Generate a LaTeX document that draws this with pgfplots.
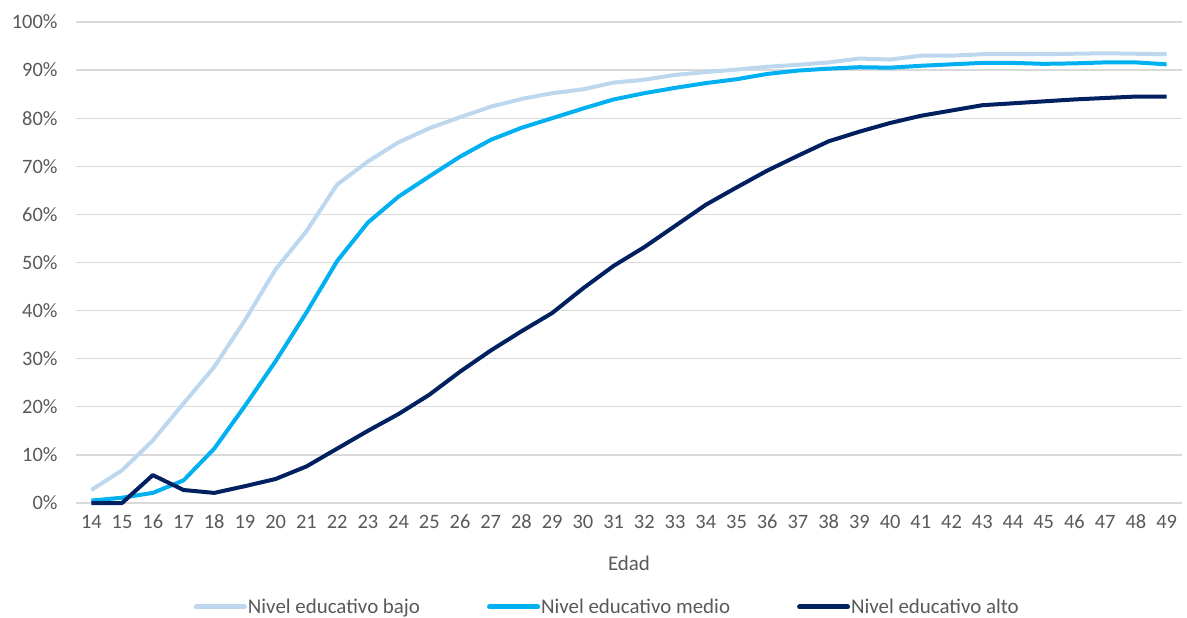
\documentclass[border=0pt]{standalone}
\usepackage{pgfplots}
\pgfplotsset{compat=1.18}
\usepackage{fontspec}
\setmainfont{Carlito}
\definecolor{bajo}{HTML}{BDD7EE}
\definecolor{medio}{HTML}{00B0F0}
\definecolor{alto}{HTML}{002060}
\definecolor{txt}{HTML}{595959}
\definecolor{gridcol}{HTML}{D9D9D9}
\newcommand{\lblfont}{\fontsize{20.5}{23}\selectfont}
\newcommand{\legfont}{\fontsize{21}{24}\selectfont}

\begin{document}
\begin{tikzpicture}[x=1bp,y=1bp]
\useasboundingbox (-76bp,-115bp) rectangle (1111bp,503bp);
\begin{axis}[
  at={(0,0)}, anchor=south west,
  scale only axis, width=1106bp, height=481bp,
  xmin=13.5, xmax=49.5, ymin=0, ymax=100,
  xtick={14,...,49}, ytick={0,10,...,100},
  yticklabel={\pgfmathprintnumber{\tick}\%},
  major tick length=0pt,
  axis line style={draw=none},
  xmajorgrids=false, ymajorgrids=true,
  grid style={draw=gridcol, line width=1.3bp},
  font=\lblfont\color{txt},
  ticklabel style={font=\lblfont\color{txt}},
  /pgf/number format/assume math mode=true,
  yticklabel style={xshift=-15bp},
  xticklabel style={anchor=center, yshift=-19bp},
  xlabel={Edad}, xlabel style={anchor=center, at={(0.5,-0.125)}, font=\legfont\color{txt}},
  legend style={at={(0.48,-0.216)}, anchor=center, draw=none, fill=none,
    legend columns=3, font=\legfont\color{txt},
    nodes={inner xsep=1bp},
    /tikz/every even column/.append style={column sep=66bp},
    inner sep=0pt},
  legend image code/.code={\draw[#1, line width=5bp, line cap=round] (0bp,0bp) -- (48bp,0bp);},
  legend cell align=left,
  every axis plot/.append style={line width=4bp, line join=round},
  clip=false,
]
\addplot[bajo] coordinates {
(14,2.7) (15,6.8) (16,13) (17,20.7) (18,28.3) (19,38) (20,48.6) (21,56.5)
(22,66.2) (23,71) (24,75) (25,77.9) (26,80.2) (27,82.4) (28,84) (29,85.2)
(30,86) (31,87.4) (32,88) (33,89) (34,89.6) (35,90.1) (36,90.7) (37,91.1)
(38,91.6) (39,92.4) (40,92.2) (41,93) (42,93) (43,93.3) (44,93.3) (45,93.3)
(46,93.4) (47,93.5) (48,93.4) (49,93.3)};
\addlegendentry{Nivel educativo bajo}
\addplot[medio] coordinates {
(14,0.5) (15,1.1) (16,2.1) (17,4.7) (18,11.3) (19,20.2) (20,29.5) (21,39.6)
(22,50.3) (23,58.3) (24,63.7) (25,67.9) (26,72) (27,75.5) (28,78) (29,80)
(30,82) (31,83.9) (32,85.2) (33,86.3) (34,87.3) (35,88.1) (36,89.2) (37,89.9)
(38,90.3) (39,90.6) (40,90.5) (41,90.9) (42,91.2) (43,91.5) (44,91.5) (45,91.3)
(46,91.4) (47,91.6) (48,91.6) (49,91.2)};
\addlegendentry{Nivel educativo medio}
\addplot[alto] coordinates {
(14,0) (15,0) (16,5.8) (17,2.7) (18,2.1) (19,3.5) (20,5) (21,7.6)
(22,11.3) (23,15) (24,18.5) (25,22.5) (26,27.3) (27,31.7) (28,35.7) (29,39.5)
(30,44.6) (31,49.3) (32,53.2) (33,57.6) (34,62) (35,65.6) (36,69.1) (37,72.2)
(38,75.2) (39,77.2) (40,79) (41,80.5) (42,81.6) (43,82.7) (44,83.1) (45,83.5)
(46,83.9) (47,84.2) (48,84.5) (49,84.5)};
\addlegendentry{Nivel educativo alto}
\end{axis}
\end{tikzpicture}
\end{document}
